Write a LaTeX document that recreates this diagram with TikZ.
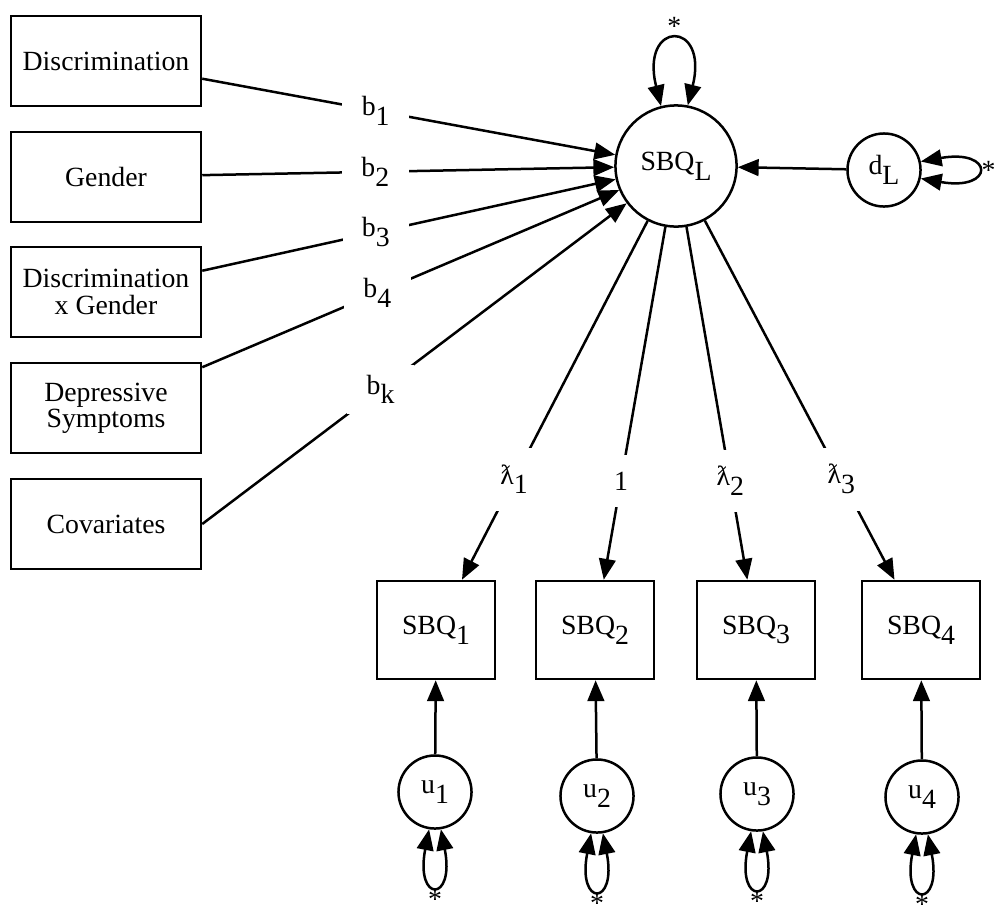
\documentclass[tikz,border=0pt]{standalone}
\usepackage{fontspec}
\setmainfont{Liberation Serif}
\usepackage{tikz}
\usetikzlibrary{arrows}
\usetikzlibrary{arrows.meta}
\usetikzlibrary{positioning}
\newcommand{\lowsub}[1]{\raisebox{-3.5pt}{#1}}

\begin{document}
\begin{tikzpicture}
      [x=0.36pt,y=-0.36pt,line width=0.9pt,
      box/.style={shape=rectangle,draw,align=center,minimum width=68.4pt,minimum height=32.4pt,
        font=\fontsize{10}{9.5}\selectfont},
      item/.style={shape=rectangle,draw,minimum width=42.5pt,minimum height=35.3pt},
      latent/.style={shape=circle,draw,inner sep=0pt,minimum size=26.3pt},
      coef/.style={fill=white,inner xsep=7pt,inner ysep=3.5pt,pos=0.42},
      load/.style={fill=white,inner sep=6pt,pos=0.72},
      arr/.style={-{Triangle[length=7.5pt,width=6pt]}},
      twoway/.style={{Triangle[length=7.5pt,width=6pt]}-{Triangle[length=7.5pt,width=6pt]}},
      star/.style={inner sep=1.5pt}]
\useasboundingbox (0,0) rectangle (995,908);

% predictors
\node[box] (disc) at (106,61) {Discrimination};
\node[box] (gend) at (106,177) {Gender};
\node[box] (dxg) at (106,292) {Discrimination\\x Gender};
\node[box] (dep) at (106,408) {Depressive\\Symptoms};
\node[box] (cov) at (106,524) {Covariates};

% latent slope and disturbance
\node[latent,minimum size=43.6pt] (sbql) at (676,166) {SBQ\lowsub{L}};
\node[latent] (dL) at (884,170) {d\lowsub{L}};

% indicators
\node[item] (sbq1) at (436,630) {SBQ\lowsub{1}};
\node[item] (sbq2) at (595,630) {SBQ\lowsub{2}};
\node[item] (sbq3) at (756,630) {SBQ\lowsub{3}};
\node[item] (sbq4) at (921,630) {SBQ\lowsub{4}};

\node[latent] (u1) at (435,792) {u\lowsub{1}};
\node[latent] (u2) at (597,796) {u\lowsub{2}};
\node[latent] (u3) at (757,794) {u\lowsub{3}};
\node[latent] (u4) at (922,797) {u\lowsub{4}};

% regressions
\draw[arr] (disc) -- node[coef] (b1) {b\lowsub{1}} (sbql);
\draw[arr] (gend) -- node[coef] (b2) {b\lowsub{2}} (sbql);
\draw[arr] (dxg) -- node[coef] (b3) {b\lowsub{3}} (sbql);
\draw[arr] (dep) -- node[coef] (b4) {b\lowsub{4}} (sbql);
\draw[arr] (cov.east) -- node[coef] (bk) {b\lowsub{k}} (sbql);
\draw[arr] (dL) -- (sbql);

% loadings
\draw[arr] (sbql) -- node[load] (l1) {ƛ\lowsub{1}} (sbq1);
\draw[arr] (sbql) -- node[load] (l0) {1} (sbq2);
\draw[arr] (sbql) -- node[load] (l2) {ƛ\lowsub{2}} (sbq3);
\draw[arr] (sbql) -- node[load] (l3) {ƛ\lowsub{3}} (sbq4);

\foreach \i in {1,...,4}
  \draw[arr] (u\i) -- (sbq\i);

% variances
\draw[twoway] (sbql.104) to[out=104,in=76,distance=32pt] node[star,above] {*} (sbql.79);
\draw[twoway] (dL.13) to[out=10,in=-10,distance=27pt] node[star,right] {*} (dL.-13);
\foreach \i in {1,...,4}
  \draw[twoway] (u\i.261) to[out=259,in=281,distance=27pt] node[star,below,inner sep=1.5pt] {*} (u\i.279);

\end{tikzpicture}
\end{document}
